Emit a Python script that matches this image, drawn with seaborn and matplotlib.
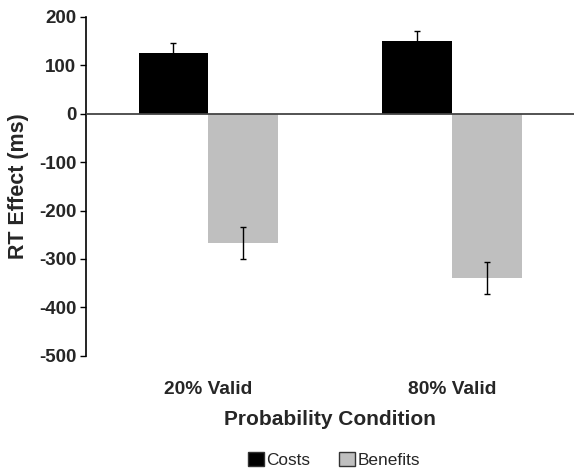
import matplotlib
matplotlib.use("Agg")
import matplotlib.pyplot as plt
import seaborn as sns
import pandas as pd
import numpy as np
from matplotlib.patches import Patch

conditions = ["20% Valid", "80% Valid"]
series = ["Costs", "Benefits"]
costs = [126, 151]
benefits = [-267, -339]
costs_err = [20, 20]
benefits_err = [34, 33]
yticks = [200, 100, 0, -100, -200, -300, -400, -500]

sns.set_theme(style="white")
plt.rcParams['font.family'] = ['Liberation Sans', 'DejaVu Sans']

df = pd.DataFrame({
    "Condition": conditions * 2,
    "Type": ["Costs"] * 2 + ["Benefits"] * 2,
    "Value": costs + benefits,
})
errs = {"Costs": costs_err, "Benefits": benefits_err}
colors = {"Costs": "#000000", "Benefits": "#bfbfbf"}

fig = plt.figure(figsize=(5.74, 4.70), dpi=100)
ax = fig.add_axes([0.15, 0.243, 0.85, 0.721])

sns.barplot(data=df, x="Condition", y="Value", hue="Type", order=conditions,
            hue_order=series, palette=colors, errorbar=None, width=0.57,
            saturation=1, ax=ax, legend=False)

for container, s in zip(ax.containers, series):
    for bar, e in zip(container, errs[s]):
        xc = bar.get_x() + bar.get_width() / 2
        h = bar.get_height()
        ax.errorbar([xc], [h], yerr=[e], color="black", lw=1.0, capsize=2.4,
                    capthick=1.0, zorder=1 if s == "Costs" else 3)
    for bar in container:
        bar.set_edgecolor("none")
        bar.set_zorder(2)

ax.axhline(0, color="#444444", lw=1.3, zorder=4)
ax.set_ylim(-500, 200)
ax.set_xlim(-0.5, 1.5)
ax.set_yticks(yticks)
ax.set_yticklabels([str(t) for t in yticks], fontsize=13.5, fontweight="bold")
ax.tick_params(axis="y", which="both", left=True, length=4, width=1, color="black", pad=3)
ax.tick_params(axis="x", bottom=False, pad=12)
for lab in ax.get_xticklabels():
    lab.set_fontsize(13.8)
    lab.set_fontweight("bold")

for side in ["top", "right", "bottom"]:
    ax.spines[side].set_visible(False)
ax.spines["left"].set_color("black")
ax.spines["left"].set_linewidth(1.2)

ax.set_ylabel("RT Effect (ms)", fontsize=15.5, fontweight="bold", labelpad=7)
ax.set_xlabel("Probability Condition", fontsize=15, fontweight="bold", labelpad=9)

handles = [Patch(facecolor=colors[s], edgecolor="#333333", lw=1, label=s) for s in series]
fig.legend(handles=handles, loc="center", bbox_to_anchor=(0.582, 0.022), ncol=2,
           frameon=False, fontsize=12.4, handlelength=0.9, handleheight=0.9,
           handletextpad=0.15, columnspacing=1.7)

fig.savefig("out.png", dpi=100)
